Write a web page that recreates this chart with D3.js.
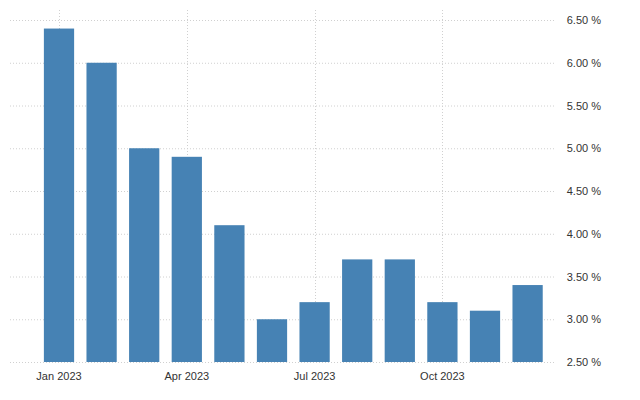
<!DOCTYPE html>
<html><head><meta charset="utf-8">
<script src="https://cdn.jsdelivr.net/npm/d3@7"></script>
<style>body{margin:0;background:#fff}</style></head>
<body><svg id="c" width="640" height="400"></svg>
<script>
const months = ["2023-01","2023-02","2023-03","2023-04","2023-05","2023-06","2023-07","2023-08","2023-09","2023-10","2023-11","2023-12"];
const values = [6.4,6.0,5.0,4.9,4.1,3.0,3.2,3.7,3.7,3.2,3.1,3.4];
const yTicks = [2.5,3.0,3.5,4.0,4.5,5.0,5.5,6.0,6.5];
const xTickMonths = ["2023-01","2023-04","2023-07","2023-10"];
const xTickLabels = ["Jan 2023","Apr 2023","Jul 2023","Oct 2023"];

const svg = d3.select("#c");
const x = d3.scaleBand().domain(months).range([37.7, 548.9]).paddingInner(0.29).paddingOuter(0.145);
const y = d3.scaleLinear().domain([2.5, 6.5]).range([362, 20]);
const L = 10, R = 556;

const g = svg.append("g");
g.selectAll(".hg").data(yTicks).join("line")
 .attr("x1", L).attr("x2", R).attr("y1", d=>y(d)+0.5).attr("y2", d=>y(d)+0.5)
 .attr("stroke", "#d0d0d0").attr("stroke-dasharray", "1,2");
g.selectAll(".vg").data(xTickMonths).join("line")
 .attr("x1", d=>Math.round(x(d)+x.bandwidth()/2)+0.5).attr("x2", d=>Math.round(x(d)+x.bandwidth()/2)+0.5)
 .attr("y1", 10).attr("y2", 362)
 .attr("stroke", "#d0d0d0").attr("stroke-dasharray", "1,2");

g.selectAll(".bar").data(values).join("rect")
 .attr("x", (d,i)=>x(months[i])).attr("width", x.bandwidth())
 .attr("y", d=>y(d)).attr("height", d=>y(2.5)-y(d))
 .attr("fill", "#4682b4");

const fmt = d3.format(".2f");
svg.selectAll(".yl").data(yTicks).join("text")
 .attr("x", 601).attr("y", d=>y(d)+4).attr("text-anchor","end")
 .attr("font-family","Arial, 'Liberation Sans', sans-serif").attr("font-size",11).attr("fill","#333")
 .text(d=>fmt(d)+" %");
svg.selectAll(".xl").data(xTickMonths).join("text")
 .attr("x", d=>x(d)+x.bandwidth()/2).attr("y", 380).attr("text-anchor","middle")
 .attr("font-family","Arial, 'Liberation Sans', sans-serif").attr("font-size",11).attr("fill","#333")
 .text((d,i)=>xTickLabels[i]);
</script></body></html>
